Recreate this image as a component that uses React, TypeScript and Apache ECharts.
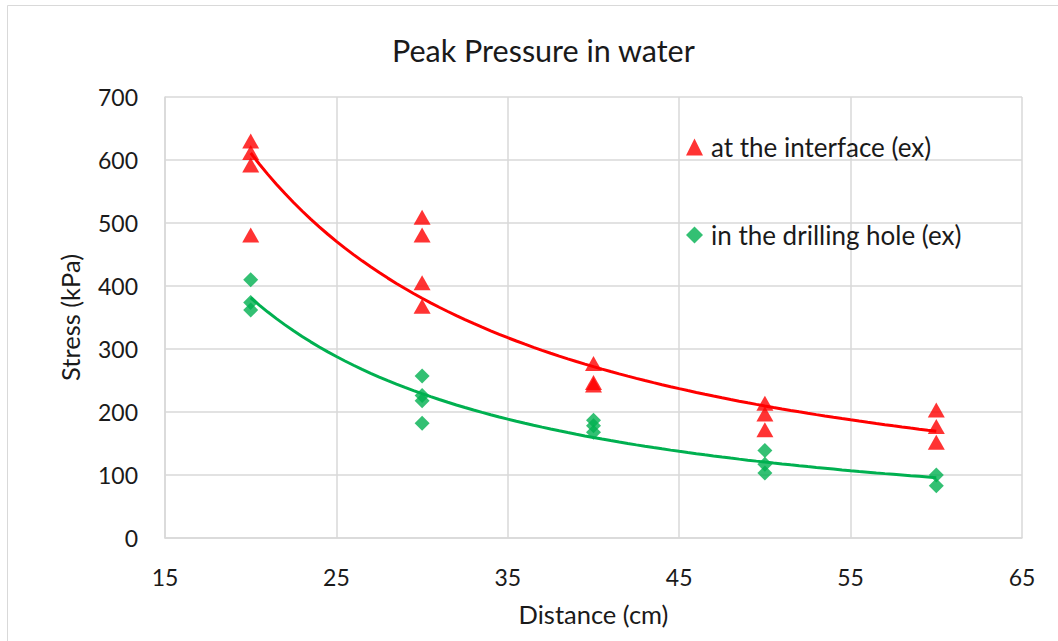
import React, { useEffect, useRef } from "react";
import * as echarts from "echarts";

const TITLE = "Peak Pressure in water";
const X_NAME = "Distance (cm)";
const Y_NAME = "Stress (kPa)";
const SERIES_RED = "at the interface (ex)";
const SERIES_GREEN = "in the drilling hole (ex)";

// [distance (cm), stress (kPa)]
const interfacePoints: [number, number][] = [
  [20, 630], [20, 612], [20, 592], [20, 481],
  [30, 509], [30, 481], [30, 405], [30, 368],
  [40, 277], [40, 247], [40, 243],
  [50, 214], [50, 197], [50, 172],
  [60, 203], [60, 177], [60, 152],
];

const holePoints: [number, number][] = [
  [20, 410], [20, 374], [20, 362],
  [30, 257], [30, 226], [30, 218], [30, 182],
  [40, 187], [40, 178], [40, 168],
  [50, 139], [50, 117], [50, 103],
  [60, 100], [60, 83],
];

const X_TICKS = { min: 15, max: 65, interval: 10 };
const Y_TICKS = { min: 0, max: 700, interval: 100 };

// Power trendline (least squares on ln-ln), as Excel computes it
function powerTrend(pts: [number, number][]): [number, number][] {
  const n = pts.length;
  let sx = 0, sy = 0;
  pts.forEach(([x, y]) => { sx += Math.log(x); sy += Math.log(y); });
  const mx = sx / n, my = sy / n;
  let sxy = 0, sxx = 0;
  pts.forEach(([x, y]) => {
    const dx = Math.log(x) - mx;
    sxy += dx * (Math.log(y) - my);
    sxx += dx * dx;
  });
  const b = sxy / sxx;
  const lnA = my - b * mx;
  const xs = pts.map((p) => p[0]);
  const x0 = Math.min(...xs), x1 = Math.max(...xs);
  const out: [number, number][] = [];
  const steps = 80;
  for (let i = 0; i <= steps; i++) {
    const x = x0 + ((x1 - x0) * i) / steps;
    out.push([x, Math.exp(lnA + b * Math.log(x))]);
  }
  return out;
}

const FONT = "Lato, 'Open Sans', sans-serif";
const TEXT = "#1a1a1a";

export default function App() {
  const ref = useRef<HTMLDivElement>(null);
  useEffect(() => {
    if (!ref.current) return;
    const chart = echarts.init(ref.current, undefined, { renderer: "svg" });
    chart.setOption({
      animation: false,
      backgroundColor: "#ffffff",
      textStyle: { fontFamily: FONT },
      title: {
        text: TITLE,
        left: 387,
        top: 29,
        textStyle: { fontFamily: FONT, fontSize: 30.5, fontWeight: "normal", color: TEXT },
      },
      graphic: [
        {
          type: "rect",
          shape: { x: 7.5, y: 5.5, width: 1060, height: 660 },
          style: { fill: "none", stroke: "#d9d9d9", lineWidth: 1 },
          silent: true,
        },
      ],
      legend: {
        orient: "vertical",
        left: 681,
        top: 129,
        itemGap: 62,
        itemWidth: 17,
        itemHeight: 17,
        data: [SERIES_RED, SERIES_GREEN],
        textStyle: { fontFamily: FONT, fontSize: 26, color: TEXT, padding: [0, 0, 0, 3] },
      },
      grid: { left: 165, right: 36, top: 97, bottom: 103 },
      xAxis: {
        type: "value",
        ...X_TICKS,
        name: X_NAME,
        nameLocation: "middle",
        nameGap: 63,
        nameTextStyle: { fontFamily: FONT, fontSize: 25.5, color: TEXT },
        axisLine: { show: true, lineStyle: { color: "#d9d9d9", width: 1.5 } },
        axisTick: { show: false },
        axisLabel: { fontFamily: FONT, fontSize: 23, color: TEXT, margin: 27 },
        splitLine: { show: true, lineStyle: { color: "#d9d9d9", width: 1.5 } },
      },
      yAxis: {
        type: "value",
        ...Y_TICKS,
        name: Y_NAME,
        nameLocation: "middle",
        nameGap: 82,
        nameTextStyle: { fontFamily: FONT, fontSize: 25.5, color: TEXT },
        axisLine: { show: true, lineStyle: { color: "#d9d9d9", width: 1.5 } },
        axisTick: { show: false },
        axisLabel: { fontFamily: FONT, fontSize: 23, color: TEXT, margin: 27 },
        splitLine: { show: true, lineStyle: { color: "#d9d9d9", width: 1.5 } },
      },
      series: [
        {
          name: SERIES_RED + " trend",
          type: "line",
          data: powerTrend(interfacePoints),
          showSymbol: false,
          smooth: false,
          lineStyle: { color: "#ff0000", width: 3 },
          z: 1,
          silent: true,
        },
        {
          name: SERIES_GREEN + " trend",
          type: "line",
          data: powerTrend(holePoints),
          showSymbol: false,
          smooth: false,
          lineStyle: { color: "#00b050", width: 3 },
          z: 1,
          silent: true,
        },
        {
          name: SERIES_RED,
          type: "scatter",
          symbol: "triangle",
          symbolSize: [17, 15],
          itemStyle: { color: "#ff0000" },
          data: interfacePoints,
          z: 3,
        },
        {
          name: SERIES_GREEN,
          type: "scatter",
          symbol: "diamond",
          symbolSize: [15, 15],
          itemStyle: { color: "#00b050" },
          data: holePoints,
          z: 3,
        },
      ],
    });
    return () => chart.dispose();
  }, []);
  return (
    <div
      ref={ref}
      style={{ position: "fixed", left: 0, top: 0, width: 1058, height: 641 }}
    />
  );
}
